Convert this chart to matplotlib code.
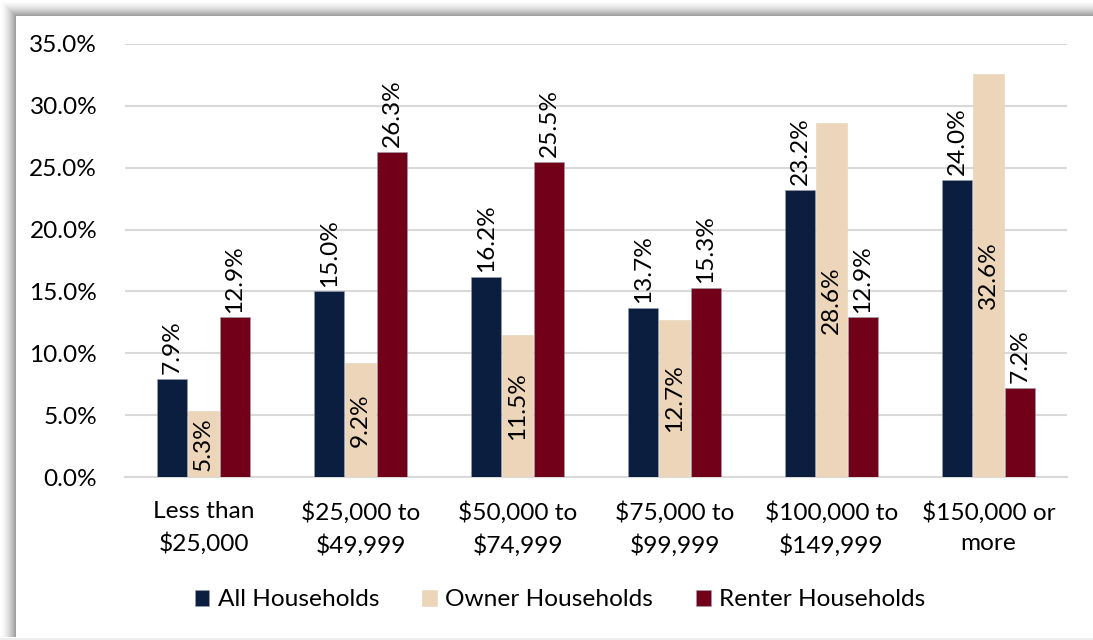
import matplotlib
matplotlib.use("Agg")
import matplotlib.pyplot as plt
import numpy as np
from matplotlib.patches import Rectangle

categories = ["Less than\n$25,000", "$25,000 to\n$49,999", "$50,000 to\n$74,999",
              "$75,000 to\n$99,999", "$100,000 to\n$149,999", "$150,000 or\nmore"]
all_hh = [7.9, 15.0, 16.2, 13.7, 23.2, 24.0]
owner_hh = [5.3, 9.2, 11.5, 12.7, 28.6, 32.6]
renter_hh = [12.9, 26.3, 25.5, 15.3, 12.9, 7.2]
series_names = ["All Households", "Owner Households", "Renter Households"]
colors = ["#0C1E40", "#EDD5B9", "#730019"]
yticks = [0, 5, 10, 15, 20, 25, 30, 35]

plt.rcParams['font.family'] = ['Lato', 'DejaVu Sans']
FS = 17.6

W, H = 1093, 640
fig = plt.figure(figsize=(W / 100, H / 100), dpi=100)

# shadow frame
for i in range(17):
    t = i / 16.0
    g = 1.0 - 0.42 * t ** 1.6
    if i == 16:
        g = 1.0
    fig.patches.append(Rectangle((i / W, 3 / H), 1 - i / W, (H - i - 3) / H,
                                 transform=fig.transFigure, facecolor=(g, g, g),
                                 edgecolor='none', zorder=-10 + i * 0.01))
fig.patches.append(Rectangle((0, 0), 1, 2.5 / H, transform=fig.transFigure,
                             facecolor='#EEEEEE', edgecolor='none', zorder=-11))

ax = fig.add_axes([125 / W, (H - 477) / H, (1067 - 125) / W, (477 - 44) / H])
ax.set_facecolor('none')
x = np.arange(len(categories))
bw = 0.2
data = [all_hh, owner_hh, renter_hh]
for k, (vals, c, name) in enumerate(zip(data, colors, series_names)):
    pos = x + (k - 1) * bw
    ax.bar(pos, vals, width=bw * 0.98, color=c, label=name, zorder=3,
           edgecolor='#9AA0AE' if k != 1 else '#E6D2BB', linewidth=0.4)
    for p, v in zip(pos, vals):
        lab = f"{v:.1f}%"
        if k == 1:
            ax.text(p, v / 2, lab, rotation=90, ha='center', va='center',
                    fontsize=FS, zorder=4)
        else:
            ax.annotate(lab, (p, v), xytext=(0, 3.5), textcoords='offset points',
                        rotation=90, ha='center', va='bottom', fontsize=FS, zorder=4)

ax.set_xlim(-0.5, len(categories) - 0.5)
ax.set_ylim(0, 35)
ax.set_yticks(yticks)
ax.set_yticklabels([f"{v:.1f}%" for v in yticks], fontsize=FS)
ax.set_xticks(x)
ax.set_xticklabels(categories, fontsize=FS, linespacing=1.55)
ax.tick_params(axis='y', length=0, pad=20)
ax.tick_params(axis='x', length=0, pad=17.5)
ax.grid(axis='y', color='#D9D9D9', linewidth=1.5, zorder=0)
for s in ['top', 'right', 'left']:
    ax.spines[s].set_visible(False)
ax.spines['bottom'].set_color('#D9D9D9')
ax.spines['bottom'].set_linewidth(1.5)

fig.legend(loc='center', bbox_to_anchor=(560 / W, 1 - 600 / H), ncol=3,
           frameon=False, fontsize=FS, handlelength=0.6, handleheight=0.6,
           handletextpad=0.35, columnspacing=1.75)

fig.savefig("out.png", dpi=100)
